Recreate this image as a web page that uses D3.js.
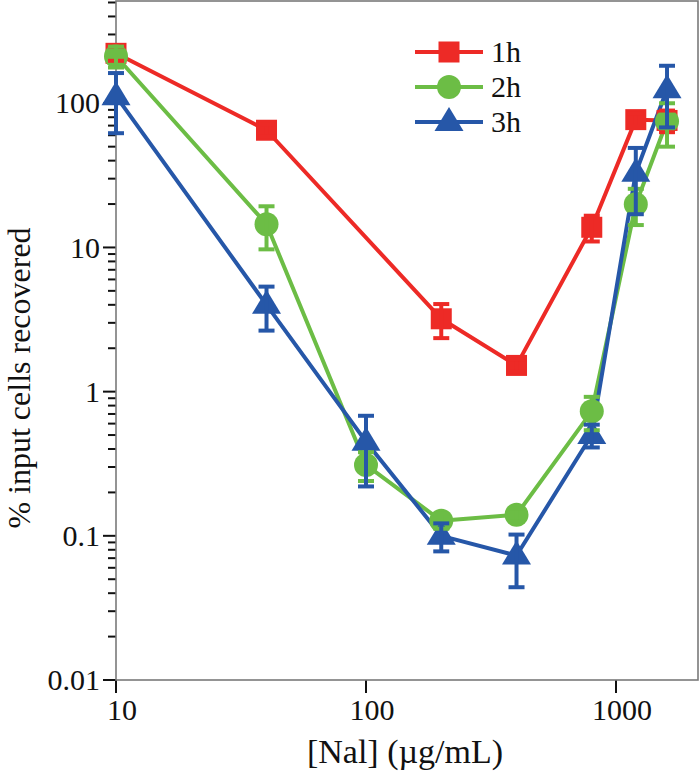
<!DOCTYPE html>
<html>
<head>
<meta charset="utf-8">
<script src="https://cdn.jsdelivr.net/npm/d3@7"></script>
<style>
  html, body { margin: 0; padding: 0; background: #fff; }
  svg { display: block; }
</style>
</head>
<body>
<svg id="chart" width="700" height="771" font-family="'Liberation Serif', 'Times New Roman', Times, serif"></svg>
<script>
// ---- data ----
const concentrations = [10, 40, 100, 200, 400, 800, 1200, 1600];
const seriesNames = ["1h", "2h", "3h"];
const values1h = [222, 65, null, 3.2, 1.52, 13.8, 77, 76];
const errors1h = [25, 6, null, 0.85, 0.15, 2.8, 8, 13];
const values2h = [212, 14.5, 0.31, 0.127, 0.14, 0.73, 19.9, 75];
const errors2h = [35, 4.8, 0.07, 0.015, 0.015, 0.19, 5.6, 25];
const values3h = [112, 4.0, 0.45, 0.1, 0.073, 0.5, 33, 125];
const errors3h = [50, 1.35, 0.23, 0.022, 0.029, 0.09, 16, 57];
const yTickValues = [0.01, 0.1, 1, 10, 100];
const yTickLabels = ["0.01", "0.1", "1", "10", "100"];
const xTickValues = [10, 100, 1000];
const xTickLabels = ["10", "100", "1000"];
const colors = ["#ED2A26", "#6CBD45", "#2657A8"];
const shapes = ["square", "circle", "triangle"];
const xTitle = "[Nal] (\u00B5g/mL)";
const yTitle = "% input cells recovered";

const series = [
  { name: seriesNames[0], vals: values1h, errs: errors1h },
  { name: seriesNames[1], vals: values2h, errs: errors2h },
  { name: seriesNames[2], vals: values3h, errs: errors3h }
].map((s, i) => ({
  ...s, color: colors[i], shape: shapes[i],
  pts: concentrations.map((c, j) => ({ x: c, y: s.vals[j], e: s.errs[j] })).filter(p => p.y != null)
}));

// ---- layout ----
const svg = d3.select("#chart");
const L = 116, R = 698, T = 1, B = 680;
const x = d3.scaleLog().domain([10, Math.pow(10, 3.328)]).range([L, R]);
const y = d3.scaleLog().domain([0.01, 512]).range([B, T]);
const ink = "#111";

// minor y ticks
const minor = [];
for (let d = -2; d <= 2; d++) for (let k = 2; k <= 9; k++) {
  const v = k * Math.pow(10, d);
  if (v <= 512) minor.push(v);
}
const g = svg.append("g");
g.selectAll("line.minor").data(minor).join("line")
  .attr("x1", L - 8).attr("x2", L).attr("y1", d => y(d)).attr("y2", d => y(d))
  .attr("stroke", ink).attr("stroke-width", 2);
g.selectAll("line.major").data(yTickValues).join("line")
  .attr("x1", L - 13).attr("x2", L).attr("y1", d => y(d)).attr("y2", d => y(d))
  .attr("stroke", ink).attr("stroke-width", 2);
g.selectAll("text.yl").data(yTickValues).join("text")
  .attr("x", L - 16).attr("y", d => y(d)).attr("dy", "0.34em")
  .attr("text-anchor", "end").attr("font-size", 30).attr("fill", ink)
  .text((d, i) => yTickLabels[i]);

g.selectAll("line.xt").data(xTickValues).join("line")
  .attr("x1", d => x(d)).attr("x2", d => x(d)).attr("y1", B).attr("y2", B + 13)
  .attr("stroke", ink).attr("stroke-width", 2);
g.selectAll("text.xl").data(xTickValues).join("text")
  .attr("x", d => x(d) + 6).attr("y", 720)
  .attr("text-anchor", "middle").attr("font-size", 30).attr("fill", ink)
  .text((d, i) => xTickLabels[i]);

// frame
svg.append("rect").attr("x", L).attr("y", T).attr("width", R - L).attr("height", B - T)
  .attr("fill", "none").attr("stroke", "#7a7a7a").attr("stroke-width", 1.6);

// titles
svg.append("text").attr("x", 405).attr("y", 763).attr("text-anchor", "middle")
  .attr("font-size", 34).attr("fill", ink).text(xTitle);
svg.append("text").attr("transform", "translate(30,378) rotate(-90)")
  .attr("text-anchor", "middle").attr("font-size", 32).attr("fill", ink).text(yTitle);

// marker helper
function drawMarker(sel, shape, color) {
  if (shape === "square") {
    sel.append("rect").attr("x", -10.5).attr("y", -10.5).attr("width", 21).attr("height", 21).attr("fill", color);
  } else if (shape === "circle") {
    sel.append("circle").attr("r", 12).attr("fill", color);
  } else {
    sel.append("path").attr("d", "M0,-15L14.5,9L-14.5,9Z").attr("fill", color);
  }
}

const line = d3.line().x(d => x(d.x)).y(d => y(d.y));

// lines
series.forEach(s => {
  svg.append("path").datum(s.pts).attr("d", line)
    .attr("fill", "none").attr("stroke", s.color).attr("stroke-width", 4)
    .attr("stroke-linejoin", "round");
});
// markers
series.forEach(s => {
  svg.append("g").selectAll("g").data(s.pts).join("g")
    .attr("transform", d => `translate(${x(d.x)},${y(d.y)})`)
    .each(function () { drawMarker(d3.select(this), s.shape, s.color); });
});
// error bars
series.forEach(s => {
  const eg = svg.append("g").attr("stroke", s.color).attr("stroke-width", 4).attr("fill", "none");
  s.pts.forEach(p => {
    const cx = x(p.x), y1 = y(p.y + p.e), y0 = y(Math.max(p.y - p.e, 0.011));
    eg.append("line").attr("x1", cx).attr("x2", cx).attr("y1", y1).attr("y2", y0);
    eg.append("line").attr("x1", cx - 8).attr("x2", cx + 8).attr("y1", y1).attr("y2", y1);
    eg.append("line").attr("x1", cx - 8).attr("x2", cx + 8).attr("y1", y0).attr("y2", y0);
  });
});

// legend
const legY = [52, 87, 122];
series.forEach((s, i) => {
  const lg = svg.append("g").attr("transform", `translate(415,${legY[i]})`);
  lg.append("line").attr("x1", 0).attr("x2", 68).attr("y1", 0).attr("y2", 0)
    .attr("stroke", s.color).attr("stroke-width", 4);
  drawMarker(lg.append("g").attr("transform", "translate(34,0)"), s.shape, s.color);
  lg.append("text").attr("x", 76).attr("y", 10).attr("font-size", 30).attr("fill", ink).text(s.name);
});
</script>
</body>
</html>
